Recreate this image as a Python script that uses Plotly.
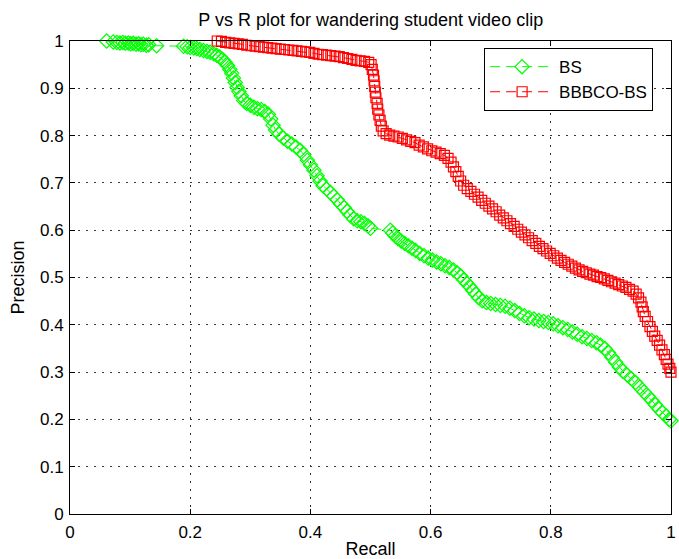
import plotly.graph_objects as go

bs_recall = [0.061, 0.072, 0.078, 0.083, 0.088, 0.092, 0.097, 0.101, 0.105, 0.110, 0.114, 0.118, 0.122, 0.127, 0.131, 0.144,
             0.189, 0.195, 0.200, 0.206, 0.211, 0.216, 0.222, 0.228, 0.233, 0.239, 0.244, 0.249, 0.254, 0.258, 0.262,
             0.266, 0.269, 0.272, 0.275, 0.278, 0.281, 0.285, 0.289, 0.294, 0.300, 0.306, 0.312, 0.318, 0.324, 0.330,
             0.334, 0.338, 0.342, 0.348, 0.355, 0.362, 0.369, 0.376, 0.383, 0.389, 0.395, 0.400, 0.406, 0.411, 0.416,
             0.421, 0.427, 0.433, 0.439, 0.445, 0.450, 0.456, 0.461, 0.466, 0.472, 0.478, 0.484, 0.490, 0.496, 0.500,
             0.533, 0.537, 0.541, 0.546, 0.551, 0.557, 0.563, 0.569, 0.575, 0.582, 0.589, 0.596, 0.603, 0.610, 0.617,
             0.624, 0.631, 0.638, 0.644, 0.650, 0.655, 0.660, 0.665, 0.670, 0.675, 0.680, 0.686, 0.693, 0.700, 0.708,
             0.716, 0.724, 0.732, 0.740, 0.748, 0.756, 0.764, 0.772, 0.780, 0.788, 0.796, 0.804, 0.812, 0.820, 0.828,
             0.836, 0.844, 0.852, 0.860, 0.868, 0.876, 0.883, 0.890, 0.896, 0.902, 0.908, 0.914, 0.920, 0.927, 0.934,
             0.941, 0.948, 0.955, 0.962, 0.968, 0.974, 0.980, 0.986, 0.992, 0.997, 1.000]
bs_precision = [1.000, 0.998, 0.997, 0.996, 0.997, 0.995, 0.996, 0.994, 0.995, 0.993, 0.994, 0.992, 0.993, 0.991, 0.992, 0.990,
                0.989, 0.988, 0.986, 0.985, 0.984, 0.982, 0.980, 0.978, 0.976, 0.973, 0.970, 0.966, 0.961, 0.955, 0.948,
                0.940, 0.932, 0.922, 0.912, 0.902, 0.893, 0.884, 0.874, 0.868, 0.864, 0.860, 0.857, 0.855, 0.851, 0.845,
                0.835, 0.822, 0.812, 0.803, 0.795, 0.788, 0.782, 0.776, 0.769, 0.760, 0.748, 0.738, 0.727, 0.715, 0.704,
                0.694, 0.687, 0.680, 0.672, 0.664, 0.656, 0.648, 0.640, 0.632, 0.624, 0.620, 0.618, 0.614, 0.609, 0.604,
                0.600, 0.594, 0.588, 0.582, 0.577, 0.572, 0.567, 0.562, 0.557, 0.551, 0.546, 0.541, 0.537, 0.533, 0.529,
                0.525, 0.521, 0.516, 0.510, 0.503, 0.495, 0.488, 0.481, 0.473, 0.465, 0.457, 0.451, 0.447, 0.445, 0.443,
                0.441, 0.439, 0.435, 0.430, 0.424, 0.419, 0.415, 0.412, 0.409, 0.407, 0.405, 0.402, 0.398, 0.394, 0.390,
                0.385, 0.380, 0.375, 0.371, 0.367, 0.362, 0.357, 0.350, 0.341, 0.331, 0.321, 0.311, 0.302, 0.294, 0.286,
                0.278, 0.268, 0.258, 0.249, 0.240, 0.231, 0.222, 0.214, 0.207, 0.200, 0.197]

bbbco_recall = [0.245, 0.252, 0.259, 0.266, 0.273, 0.280, 0.287, 0.294, 0.301, 0.308, 0.315, 0.322, 0.329, 0.336, 0.343,
                0.350, 0.357, 0.364, 0.371, 0.378, 0.385, 0.392, 0.399, 0.406, 0.413, 0.420, 0.427, 0.434, 0.441, 0.448,
                0.455, 0.462, 0.469, 0.476, 0.483, 0.490, 0.497, 0.501, 0.503, 0.505, 0.506, 0.507, 0.508, 0.509, 0.511,
                0.512, 0.514, 0.516, 0.518, 0.521, 0.526, 0.532, 0.539, 0.546, 0.553, 0.560, 0.567, 0.574, 0.581, 0.588,
                0.595, 0.602, 0.609, 0.616, 0.623, 0.629, 0.634, 0.638, 0.642, 0.646, 0.650, 0.655, 0.661, 0.667, 0.673,
                0.679, 0.685, 0.691, 0.697, 0.703, 0.709, 0.715, 0.721, 0.727, 0.733, 0.739, 0.745, 0.751, 0.757, 0.763,
                0.769, 0.775, 0.781, 0.787, 0.793, 0.799, 0.805, 0.811, 0.817, 0.823, 0.829, 0.835, 0.841, 0.847, 0.853,
                0.859, 0.865, 0.871, 0.877, 0.883, 0.889, 0.895, 0.901, 0.907, 0.913, 0.919, 0.925, 0.931, 0.937, 0.942,
                0.946, 0.950, 0.952, 0.954, 0.957, 0.961, 0.965, 0.969, 0.973, 0.977, 0.981, 0.985, 0.989, 0.992, 0.995,
                0.998, 1.000]
bbbco_precision = [1.000, 0.999, 0.997, 0.996, 0.995, 0.994, 0.993, 0.991, 0.990, 0.989, 0.988, 0.987, 0.986, 0.985, 0.984,
                   0.983, 0.982, 0.981, 0.980, 0.979, 0.978, 0.977, 0.976, 0.974, 0.972, 0.971, 0.970, 0.969, 0.968, 0.967,
                   0.965, 0.963, 0.961, 0.959, 0.958, 0.957, 0.955, 0.950, 0.940, 0.928, 0.916, 0.904, 0.892, 0.880, 0.868,
                   0.856, 0.844, 0.832, 0.820, 0.810, 0.804, 0.801, 0.799, 0.797, 0.794, 0.791, 0.788, 0.785, 0.780, 0.776,
                   0.772, 0.768, 0.765, 0.762, 0.758, 0.752, 0.744, 0.734, 0.724, 0.714, 0.704, 0.695, 0.688, 0.682, 0.676,
                   0.670, 0.663, 0.657, 0.651, 0.645, 0.639, 0.632, 0.626, 0.620, 0.614, 0.608, 0.602, 0.596, 0.590, 0.584,
                   0.578, 0.572, 0.566, 0.561, 0.556, 0.551, 0.546, 0.541, 0.536, 0.532, 0.528, 0.524, 0.520, 0.516, 0.513,
                   0.510, 0.507, 0.505, 0.502, 0.500, 0.497, 0.494, 0.491, 0.488, 0.485, 0.482, 0.479, 0.475, 0.471, 0.465,
                   0.457, 0.448, 0.438, 0.428, 0.418, 0.407, 0.396, 0.386, 0.376, 0.367, 0.357, 0.347, 0.337, 0.327, 0.317,
                   0.308, 0.300]

y_tick_vals = [0, 0.1, 0.2, 0.3, 0.4, 0.5, 0.6, 0.7, 0.8, 0.9, 1]
y_tick_text = ["0", "0.1", "0.2", "0.3", "0.4", "0.5", "0.6", "0.7", "0.8", "0.9", "1"]
x_tick_vals = [0, 0.2, 0.4, 0.6, 0.8, 1]
x_tick_text = ["0", "0.2", "0.4", "0.6", "0.8", "1"]

FONT = "Liberation Sans, Arial, Helvetica, sans-serif"
FS = 18

fig = go.Figure()
fig.add_trace(go.Scatter(
    x=bs_recall, y=bs_precision, name="BS", mode="lines+markers",
    line=dict(color="#00ff00", width=1, dash="10px,6px"),
    marker=dict(symbol="diamond-open", size=11, color="#00ff00", line=dict(width=1.2, color="#00ff00")),
    cliponaxis=False,
))
fig.add_trace(go.Scatter(
    x=bbbco_recall, y=bbbco_precision, name="BBBCO-BS", mode="lines+markers",
    line=dict(color="#ff0000", width=1, dash="10px,6px"),
    marker=dict(symbol="square-open", size=10, color="#ff0000", line=dict(width=1.2, color="#ff0000")),
    cliponaxis=False,
))

axis_common = dict(
    showline=True, linecolor="black", linewidth=1, mirror="ticks",
    ticks="inside", ticklen=5, tickcolor="black", automargin=False,
    showgrid=True, gridcolor="#333333", gridwidth=1, griddash="1.5px,6.5px",
    zeroline=False, tickfont=dict(family=FONT, size=FS - 1, color="black"),
)

fig.update_xaxes(range=[0, 1], tickvals=x_tick_vals, ticktext=x_tick_text,
                 title=dict(text="Recall", font=dict(family=FONT, size=FS, color="black"), standoff=1),
                 ticklabelstandoff=3,
                 **axis_common)
fig.update_yaxes(range=[0, 1], tickvals=y_tick_vals, ticktext=y_tick_text,
                 title=dict(text="Precision", font=dict(family=FONT, size=FS, color="black"), standoff=10),
                 ticklabelstandoff=2,
                 **axis_common)

fig.update_layout(
    width=679, height=559,
    margin=dict(l=70, r=8, t=41, b=45, autoexpand=False),
    paper_bgcolor="white", plot_bgcolor="white",
    title=dict(text="P vs R plot for wandering student video clip", x=0.546, xanchor="center",
               y=0.965, yanchor="middle", font=dict(family=FONT, size=FS, color="black")),
    legend=dict(x=0.689, y=0.985, xanchor="left", yanchor="top",
                bordercolor="black", borderwidth=1, bgcolor="white",
                font=dict(family=FONT, size=FS - 1, color="black"), itemwidth=64,
                entrywidth=172, entrywidthmode="pixels", tracegroupgap=0),
    showlegend=True,
)

fig.write_html("out.html")
